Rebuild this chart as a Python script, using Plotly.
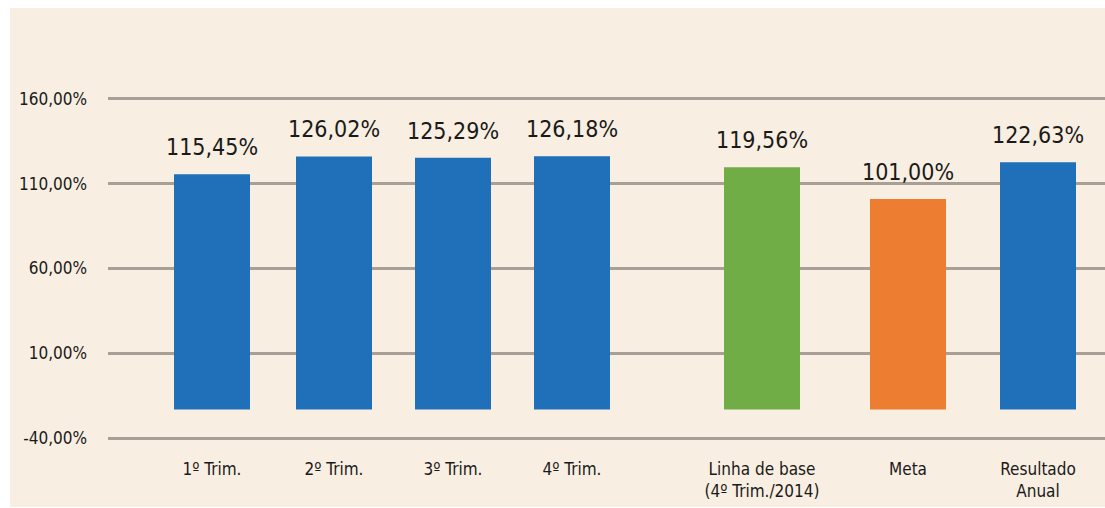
import plotly.graph_objects as go

# --- data -------------------------------------------------------------
categories = [
    "1º Trim.", "2º Trim.", "3º Trim.", "4º Trim.",
    "Linha de base<br>(4º Trim./2014)", "Meta", "Resultado<br>Anual",
]
values = [115.45, 126.02, 125.29, 126.18, 119.56, 101.00, 122.63]
value_labels = ["115,45%", "126,02%", "125,29%", "126,18%", "119,56%", "101,00%", "122,63%"]
y_ticks = [-40, 10, 60, 110, 160]
y_tick_labels = ["-40,00%", "10,00%", "60,00%", "110,00%", "160,00%"]

# --- layout constants -------------------------------------------------
X_SLOTS = [104, 226, 345, 464, 654, 800, 930]   # slot centres on the x axis
X_RANGE = [0, 997]
Y_RANGE = [-41, 161]
BAR_WIDTH = 76
BAR_BASE = -23
COLORS = ["#1F70B8", "#1F70B8", "#1F70B8", "#1F70B8", "#70AD47", "#ED7D31", "#1F70B8"]
BG = "#F8EEE1"
GRID = "#A8A096"
FONT = "DejaVu Sans Condensed, Liberation Sans Narrow, Arial Narrow, sans-serif"
TEXT = "#1A1A1A"

M_L, M_R, M_T, M_B = 108, 0, 97, 68
PLOT_W = 1105 - M_L - M_R
PLOT_H = 508 - M_T - M_B

fig = go.Figure()
fig.add_trace(go.Bar(
    x=X_SLOTS,
    y=[v - BAR_BASE for v in values],
    base=BAR_BASE,
    width=BAR_WIDTH,
    marker=dict(color=COLORS, line=dict(width=0)),
    hoverinfo="skip",
))

for xs, v, lab in zip(X_SLOTS, values, value_labels):
    fig.add_annotation(
        x=xs, y=v, text=lab, showarrow=False,
        yanchor="bottom", yshift=12,
        font=dict(family=FONT, size=23, color=TEXT),
    )

# beige panel behind the whole chart
fig.add_shape(
    type="rect", xref="paper", yref="paper",
    x0=(10 - M_L) / PLOT_W, x1=1.01,
    y0=-(507 - (508 - M_B)) / PLOT_H, y1=1 + (M_T - 8) / PLOT_H,
    fillcolor=BG, line=dict(width=0), layer="below",
)

fig.update_layout(
    width=1105, height=508,
    margin=dict(l=M_L, r=M_R, t=M_T, b=M_B),
    paper_bgcolor="white",
    plot_bgcolor=BG,
    showlegend=False,
    font=dict(family=FONT, size=17, color=TEXT),
    xaxis=dict(
        range=X_RANGE,
        tickvals=X_SLOTS, ticktext=categories,
        showgrid=False, zeroline=False, showline=False,
        ticks="", ticklabelstandoff=17,
        tickfont=dict(family=FONT, size=17, color=TEXT),
    ),
    yaxis=dict(
        range=Y_RANGE,
        tickvals=y_ticks, ticktext=y_tick_labels,
        showgrid=True, gridcolor=GRID, gridwidth=2.5,
        zeroline=False, showline=False,
        ticks="", ticklabelstandoff=20,
        tickfont=dict(family=FONT, size=17, color=TEXT),
    ),
)

fig.write_html("out.html")
